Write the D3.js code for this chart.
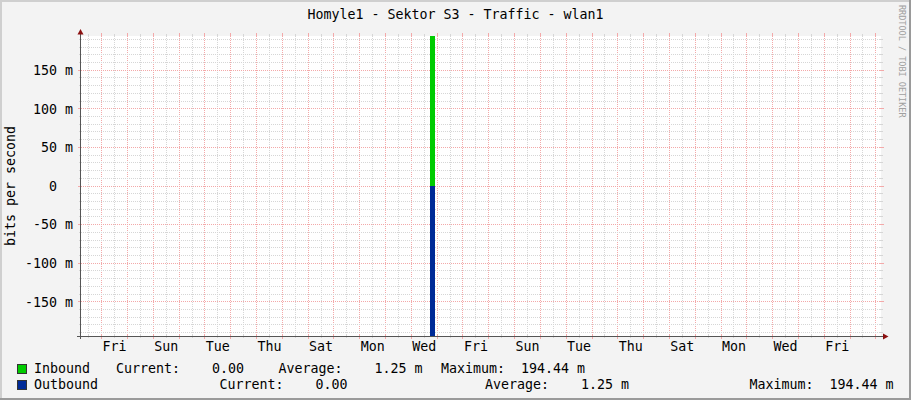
<!DOCTYPE html>
<html><head><meta charset="utf-8">
<script src="https://cdn.jsdelivr.net/npm/d3@7"></script>
<style>
html,body{margin:0;padding:0;background:#f3f3f3;}
svg{display:block;font-family:"DejaVu Sans Mono",monospace;}
text{white-space:pre;}
</style></head><body>
<svg id="chart" width="911" height="400"></svg>
<script>
// ---- data ----
const title = "Homyle1 - Sektor S3 - Traffic - wlan1";
const yAxisTitle = "bits per second";
const watermark = "RRDTOOL / TOBI OETIKER";
const sampleTimes = ["2024-02-29T04:45:00Z", "2024-03-13T17:20:00Z", "2024-03-13T22:00:00Z", "2024-03-31T04:45:00Z"];
const inboundValues = [0, 0.19444, 0, 0];
const outboundValues = [0, 0.19444, 0, 0];
const xTickLabels = ["Fri","Sun","Tue","Thu","Sat","Mon","Wed","Fri","Sun","Tue","Thu","Sat","Mon","Wed","Fri"];
const xFirstLabelDay = "2024-03-01T00:00:00Z";
const yMajorTicks = [-0.15, -0.1, -0.05, 0, 0.05, 0.1, 0.15];
const yTickLabels = ["-150 m", "-100 m", "-50 m", "0  ", "50 m", "100 m", "150 m"];
const yLimit = 0.19444;
const legendSeries = ["Inbound", "Outbound"];
const legendColors = ["#00cc00", "#002a97"];
const legendCurrent = ["0.00", "0.00"];
const legendAverage = ["1.25 m", "1.25 m"];
const legendMaximum = ["194.44 m", "194.44 m"];

// ---- layout ----
const W = 911, H = 400;
const X0 = 81, X1 = 881, YT = 36, YB = 336;
const FS = 13.3;
const svg = d3.select("#chart");

// background + borders
svg.append("rect").attr("width", W).attr("height", H).attr("fill", "#f3f3f3");
svg.append("rect").attr("x", 0).attr("y", 0).attr("width", W).attr("height", 2).attr("fill", "#cfcfcf");
svg.append("rect").attr("x", 0).attr("y", 0).attr("width", 2).attr("height", H).attr("fill", "#cfcfcf");
svg.append("rect").attr("x", W - 2).attr("y", 0).attr("width", 2).attr("height", H).attr("fill", "#9a9a9a");
svg.append("rect").attr("x", 0).attr("y", H - 2).attr("width", W).attr("height", 2).attr("fill", "#9a9a9a");

const times = sampleTimes.map(s => new Date(s));
const x = d3.scaleUtc().domain([times[0], times[times.length - 1]]).range([X0, X1]);
const y = d3.scaleLinear().domain([-yLimit, yLimit]).range([YB, YT]);

// canvas
svg.append("rect").attr("x", X0).attr("y", YT).attr("width", X1 - X0).attr("height", YB - YT).attr("fill", "#ffffff");

const crisp = v => Math.floor(v) + 0.5;
const gMinor = "#d6d6d6", gMajor = "#f3a9a9";
const grid = svg.append("g").attr("shape-rendering", "crispEdges");

// vertical grid
const halfDays = d3.utcHour.every(12).range(x.domain()[0], x.domain()[1]);
halfDays.forEach(t => {
  const major = t.getUTCHours() === 0;
  const xp = crisp(x(t));
  if (xp <= X0 + 1 || xp >= X1) return;
  const c = major ? gMajor : gMinor;
  grid.append("line").attr("x1", xp).attr("x2", xp).attr("y1", YT).attr("y2", YB)
    .attr("stroke", c).attr("stroke-dasharray", "1,1");
  grid.append("line").attr("x1", xp).attr("x2", xp).attr("y1", YT - (major ? 3 : 2)).attr("y2", YT + 1).attr("stroke", c);
  grid.append("line").attr("x1", xp).attr("x2", xp).attr("y1", YB - 1).attr("y2", YB + (major ? 3 : 2)).attr("stroke", c);
});

// horizontal grid
const minorY = d3.range(-19, 20).map(k => k / 100);
minorY.forEach(v => {
  const major = Math.abs(Math.round(v * 100) % 5) === 0;
  const yp = crisp(y(v));
  const c = major ? gMajor : gMinor;
  grid.append("line").attr("x1", X0).attr("x2", X1).attr("y1", yp).attr("y2", yp)
    .attr("stroke", c).attr("stroke-dasharray", "1,1");
  grid.append("line").attr("x1", X0 - (major ? 3 : 2)).attr("x2", X0 + 1).attr("y1", yp).attr("y2", yp).attr("stroke", c);
  grid.append("line").attr("x1", X1 - 1).attr("x2", X1 + (major ? 3 : 2)).attr("y1", yp).attr("y2", yp).attr("stroke", c);
});

// data areas
const rows = times.map((t, i) => ({t, inb: inboundValues[i], outb: outboundValues[i]}));
const inArea = d3.area().curve(d3.curveStepAfter).x(d => x(d.t)).y0(y(0)).y1(d => y(d.inb));
const outArea = d3.area().curve(d3.curveStepAfter).x(d => x(d.t)).y0(y(0)).y1(d => y(-d.outb));
svg.append("path").datum(rows).attr("d", inArea).attr("fill", legendColors[0]).attr("shape-rendering", "crispEdges");
svg.append("path").datum(rows).attr("d", outArea).attr("fill", legendColors[1]).attr("shape-rendering", "crispEdges");

// axes
const axisCol = "#555555", arrowCol = "#8b1010";
svg.append("line").attr("x1", 77).attr("x2", 884).attr("y1", YB + 0.5).attr("y2", YB + 0.5).attr("stroke", axisCol).attr("shape-rendering", "crispEdges");
svg.append("line").attr("x1", X0 - 0.5).attr("x2", X0 - 0.5).attr("y1", YB + 3).attr("y2", 32).attr("stroke", axisCol).attr("shape-rendering", "crispEdges");
svg.append("path").attr("d", "M80.5,29 L77.5,34.5 L83.5,34.5 Z").attr("fill", arrowCol);
svg.append("path").attr("d", "M888.5,336.5 L883,333.5 L883,339.5 Z").attr("fill", arrowCol);

// x labels
const firstDay = new Date(xFirstLabelDay);
svg.append("g").selectAll("text").data(xTickLabels).join("text")
  .attr("x", (d, i) => x(d3.utcHour.offset(d3.utcDay.offset(firstDay, 2 * i), 12)))
  .attr("y", 351).attr("text-anchor", "middle").attr("font-size", FS).attr("fill", "#000")
  .text(d => d);

// y labels
svg.append("g").selectAll("text").data(yMajorTicks).join("text")
  .attr("x", 73).attr("y", d => y(d) + 4.8).attr("text-anchor", "end").attr("font-size", FS).attr("fill", "#000")
  .text((d, i) => yTickLabels[i]);

// y axis title
svg.append("text").attr("transform", "translate(15," + ((YT + YB) / 2) + ") rotate(-90)")
  .attr("text-anchor", "middle").attr("font-size", FS).attr("fill", "#000").text(yAxisTitle);

// title
svg.append("text").attr("x", W / 2).attr("y", 19).attr("text-anchor", "middle").attr("font-size", FS).attr("fill", "#000").text(title);

// watermark
svg.append("text").attr("transform", "translate(899,5) rotate(90)").attr("font-size", 8.5).attr("fill", "#a0a0a0").text(watermark);

// legend
const pad = (s, n) => { const parts = s.split(" "); return parts[0].padStart(n) + (parts[1] ? " " + parts[1] : ""); };
const legendRows = [
  {y: 373, xs: [34, 116, 278.5, 441]},
  {y: 389, xs: [34, 219.5, 485, 749.5]}
];
legendSeries.forEach((name, i) => {
  const r = legendRows[i];
  svg.append("rect").attr("x", 17.5).attr("y", r.y - 8.5).attr("width", 9).attr("height", 9)
    .attr("fill", legendColors[i]).attr("stroke", "#333").attr("stroke-width", 1).attr("shape-rendering", "crispEdges");
  const pieces = [name, "Current:" + pad(legendCurrent[i], 8), "Average:" + pad(legendAverage[i], 8), "Maximum:" + pad(legendMaximum[i], 8)];
  pieces.forEach((p, j) => {
    svg.append("text").attr("x", r.xs[j]).attr("y", r.y).attr("font-size", FS).attr("fill", "#000")
      .attr("xml:space", "preserve").text(p);
  });
});
</script>
</body></html>
